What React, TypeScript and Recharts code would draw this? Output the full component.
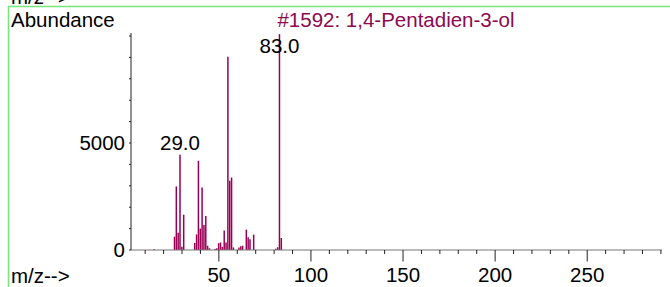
import React from 'react';
import { BarChart, Bar, XAxis, YAxis, LabelList } from 'recharts';

// m/z values and abundances
const mzValues = [15, 26, 27, 28, 29, 30, 31, 37, 38, 39, 40, 41, 42, 43, 44, 45, 48, 49, 50, 51, 52, 53, 54, 55, 56, 57, 58, 61, 62, 63, 65, 66, 67, 69, 81, 82, 83, 84];
const abundances = [40, 620, 2970, 810, 4450, 150, 1650, 330, 730, 4170, 1000, 2920, 1170, 1590, 200, 80, 50, 80, 320, 350, 150, 910, 350, 9030, 3240, 3390, 120, 120, 170, 200, 950, 590, 500, 720, 60, 130, 10090, 560];
const labeledPeaks = [29, 83];

const xTicks = [10, 20, 30, 40, 50, 60, 70, 80, 90, 100, 110, 120, 130, 140, 150, 160, 170, 180, 190, 200, 210, 220, 230, 240, 250, 260, 270, 280, 290];
const xLabels = [50, 100, 150, 200, 250];
const yTicks = [0, 1000, 2000, 3000, 4000, 5000, 6000, 7000, 8000, 9000, 10000];
const yLabels = [0, 5000];

const title = '#1592: 1,4-Pentadien-3-ol';

const FONT = '"Liberation Sans", Arial, sans-serif';
const FS = 20.5;
const PEAK = '#990055';
const TITLE = '#8b0a50';
const FRAME = '#78e678';

const data = mzValues.map((mz, i) => ({ mz, abundance: abundances[i] }));

const XTick = (props: any) => {
    const { x, y, payload } = props;
    const major = xLabels.includes(payload.value);
    return (
        <g>
            <line x1={x} x2={x} y1={y} y2={y + (major ? 11.5 : 4)} stroke="#222" strokeWidth={1} />
            {major && (
                <text x={x} y={y + 31.7} textAnchor="middle" fontFamily={FONT} fontSize={FS} fill="#000">
                    {payload.value}
                </text>
            )}
        </g>
    );
};

const PeakLabel = (props: any) => {
    const { x, y, width, index } = props;
    const mz = mzValues[index];
    if (!labeledPeaks.includes(mz)) return null;
    return (
        <text x={x + width / 2} y={Math.max(y - 5, 53)} textAnchor="middle" fontFamily={FONT} fontSize={FS} fill="#000">
            {mz.toFixed(1)}
        </text>
    );
};

export default function App() {
    return (
        <div style={{ position: 'relative', width: 670, height: 287, background: '#fff', overflow: 'hidden' }}>
            <style>{'body{margin:0}'}</style>
            <BarChart
                width={670}
                height={287}
                data={data}
                margin={{ top: 33, right: 8, left: 0, bottom: 0 }}
                barGap={0}
            >
                <XAxis
                    dataKey="mz"
                    type="number"
                    domain={[2.3, 290.6]}
                    ticks={xTicks}
                    interval={0}
                    height={37}
                    tickLine={false}
                    tickSize={0}
                    tickMargin={0}
                    axisLine={{ stroke: '#777', strokeWidth: 1 }}
                    tick={<XTick />}
                    allowDataOverflow
                />
                <YAxis
                    type="number"
                    domain={[0, 10140]}
                    ticks={yTicks}
                    interval={0}
                    width={131}
                    tickSize={2}
                    tickMargin={4}
                    axisLine={{ stroke: '#222', strokeWidth: 1 }}
                    tickLine={{ stroke: '#222' }}
                    tick={{ fontFamily: FONT, fontSize: FS, fill: '#000' }}
                    tickFormatter={(v: number) => (yLabels.includes(v) ? String(v) : '')}
                    allowDataOverflow
                />
                <Bar dataKey="abundance" fill={PEAK} barSize={1.5} isAnimationActive={false}>
                    <LabelList dataKey="abundance" content={<PeakLabel />} />
                </Bar>
            </BarChart>
            <svg
                width={670}
                height={287}
                style={{ position: 'absolute', left: 0, top: 0, pointerEvents: 'none' }}
            >
                <line x1={8} x2={670} y1={6.5} y2={6.5} stroke={FRAME} strokeWidth={1.5} />
                <line x1={8.5} x2={8.5} y1={6} y2={287} stroke={FRAME} strokeWidth={1.5} />
                <text x={11} y={3.5} fontFamily={FONT} fontSize={FS} fill="#000">m/z--&gt;</text>
                <text x={11} y={27} fontFamily={FONT} fontSize={FS} fill="#000">Abundance</text>
                <text x={396} y={27} textAnchor="middle" fontFamily={FONT} fontSize={FS} fill={TITLE}>{title}</text>
                <text x={11} y={282.5} fontFamily={FONT} fontSize={FS} fill="#000">m/z--&gt;</text>
            </svg>
        </div>
    );
}
